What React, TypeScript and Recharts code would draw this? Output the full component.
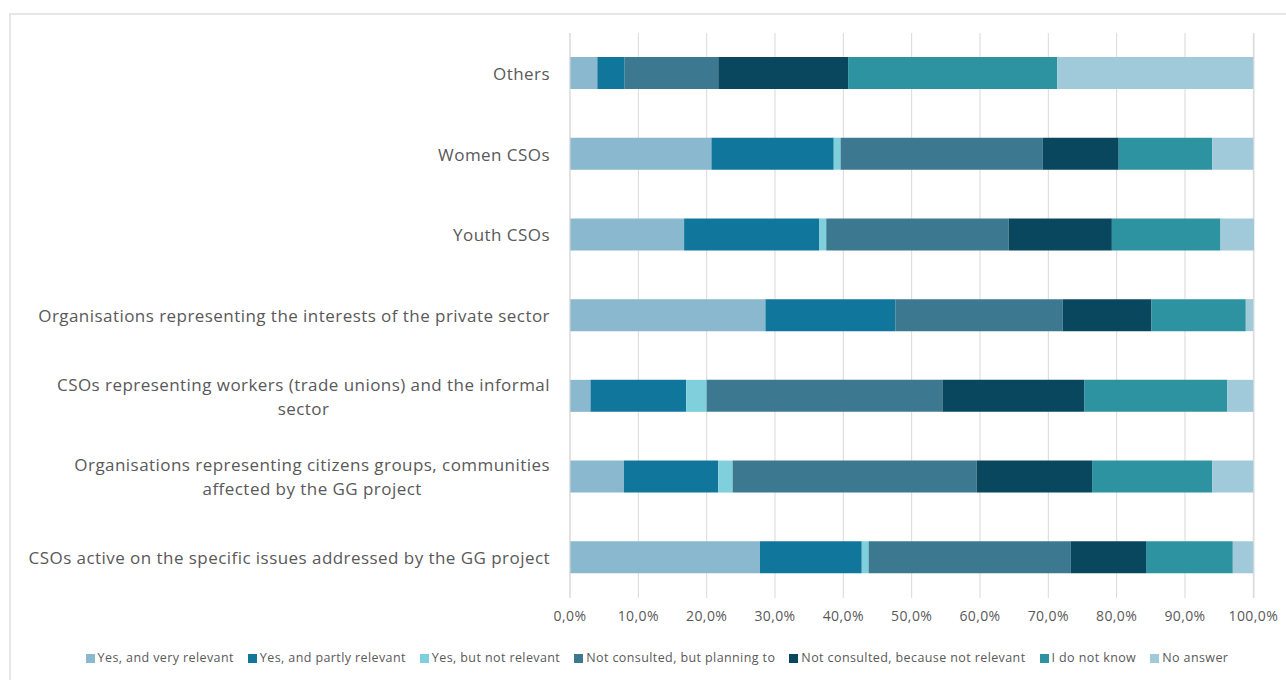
import { BarChart, Bar, XAxis, YAxis, CartesianGrid } from "recharts";

const categories = [
    "Others",
    "Women CSOs",
    "Youth CSOs",
    "Organisations representing the interests of the private sector",
    "CSOs representing workers (trade unions) and the informal sector",
    "Organisations representing citizens groups, communities affected by the GG project",
    "CSOs active on the specific issues addressed by the GG project",
];

const veryRelevant = [4.0, 20.7, 16.7, 28.6, 3.0, 7.9, 27.8];
const partlyRelevant = [4.0, 17.9, 19.8, 19.0, 14.0, 13.8, 14.9];
const notRelevant = [0, 1.0, 1.0, 0, 3.0, 2.1, 1.0];
const planningTo = [13.7, 29.6, 26.7, 24.5, 34.5, 35.7, 29.6];
const becauseNotRelevant = [19.0, 11.1, 15.1, 13.0, 20.8, 16.9, 11.0];
const doNotKnow = [30.6, 13.7, 15.9, 13.8, 20.9, 17.6, 12.7];
const noAnswer = [28.7, 6.0, 4.9, 1.1, 3.8, 6.0, 3.0];

const xTicks = [0, 10, 20, 30, 40, 50, 60, 70, 80, 90, 100];

const series = [
    { key: "very", name: "Yes, and very relevant", values: veryRelevant, color: "#8AB9CF" },
    { key: "partly", name: "Yes, and partly relevant", values: partlyRelevant, color: "#10769C" },
    { key: "notrel", name: "Yes, but not relevant", values: notRelevant, color: "#7FD0DC" },
    { key: "planning", name: "Not consulted, but planning to", values: planningTo, color: "#3C7890" },
    { key: "because", name: "Not consulted, because not relevant", values: becauseNotRelevant, color: "#09475F" },
    { key: "dk", name: "I do not know", values: doNotKnow, color: "#2E93A0" },
    { key: "na", name: "No answer", values: noAnswer, color: "#A0C9D9" },
];

const data = categories.map((name, i) => {
    const row: Record<string, string | number> = { name };
    series.forEach((s) => {
        row[s.key] = s.values[i];
    });
    return row;
});

const FONT = '"Open Sans", "Noto Sans", sans-serif';
const LABEL_FONT_SIZE = 17;
const LABEL_SPACING = 0.45;
const LABEL_WRAP = 530;

let ctx: CanvasRenderingContext2D | null = null;
function measure(text: string) {
    if (!ctx) {
        ctx = document.createElement("canvas").getContext("2d");
    }
    if (!ctx) return text.length * 8.2;
    ctx.font = `${LABEL_FONT_SIZE}px ${FONT}`;
    return ctx.measureText(text).width + text.length * LABEL_SPACING;
}

function wrapLabel(text: string, maxWidth: number) {
    const words = text.split(" ");
    const lines: string[] = [];
    let current = "";
    words.forEach((w) => {
        const next = current ? current + " " + w : w;
        if (current && measure(next) > maxWidth) {
            lines.push(current);
            current = w;
        } else {
            current = next;
        }
    });
    if (current) lines.push(current);
    return lines;
}

function CategoryTick(props: any) {
    const { x, y, payload } = props;
    const lines = wrapLabel(String(payload.value), LABEL_WRAP);
    const lineH = 24;
    const startY = y - ((lines.length - 1) * lineH) / 2;
    const textProps = {
        dominantBaseline: "central" as const,
        fill: "#595959",
        fontSize: LABEL_FONT_SIZE,
        fontFamily: FONT,
        letterSpacing: LABEL_SPACING,
    };
    if (lines.length === 1) {
        return (
            <text x={x} y={y} textAnchor="end" {...textProps}>
                {lines[0]}
            </text>
        );
    }
    const widest = Math.max(...lines.map(measure));
    const cx = x - widest / 2;
    return (
        <g>
            {lines.map((l, i) => (
                <text key={i} x={cx} y={startY + i * lineH} textAnchor="middle" {...textProps}>
                    {l}
                </text>
            ))}
        </g>
    );
}

const pct = (v: number) => v.toFixed(1).replace(".", ",") + "%";

export default function App() {
    return (
        <div style={{ position: "absolute", left: 0, top: 0, width: 1286, height: 680, background: "#fff", overflow: "hidden" }}>
            <div
                style={{
                    position: "absolute",
                    left: 9,
                    top: 13,
                    width: 1300,
                    height: 700,
                    border: "2px solid #e6e6e6",
                }}
            />
            <div style={{ position: "absolute", left: 0, top: 0 }}>
                <BarChart
                    width={1286}
                    height={640}
                    data={data}
                    layout="vertical"
                    margin={{ top: 33, right: 32, left: 0, bottom: 12 }}
                    barSize={32}
                >
                    <CartesianGrid horizontal={false} stroke="#d9d9d9" />
                    <XAxis
                        type="number"
                        domain={[0, 100]}
                        ticks={xTicks}
                        tickFormatter={pct}
                        axisLine={false}
                        tickLine={false}
                        tickSize={0}
                        tickMargin={13}
                        height={30}
                        tick={{ fill: "#595959", fontSize: 14, fontFamily: FONT, letterSpacing: 0.4 }}
                    />
                    <YAxis
                        type="category"
                        dataKey="name"
                        width={570}
                        axisLine={{ stroke: "#d9d9d9" }}
                        tickLine={false}
                        tickSize={0}
                        tickMargin={20}
                        interval={0}
                        tick={<CategoryTick />}
                    />
                    {series.map((s) => (
                        <Bar
                            key={s.key}
                            dataKey={s.key}
                            name={s.name}
                            stackId="a"
                            fill={s.color}
                            isAnimationActive={false}
                        />
                    ))}
                </BarChart>
            </div>
            <div
                style={{
                    position: "absolute",
                    left: 28,
                    top: 649,
                    width: 1258,
                    display: "flex",
                    justifyContent: "center",
                    gap: 14,
                    fontFamily: FONT,
                    fontSize: 12.5,
                    letterSpacing: 0.4,
                    color: "#595959",
                    lineHeight: "18px",
                }}
            >
                {series.map((s) => (
                    <div key={s.key} style={{ display: "flex", alignItems: "center", gap: 3 }}>
                        <span style={{ width: 9, height: 9, background: s.color, display: "inline-block" }} />
                        <span>{s.name}</span>
                    </div>
                ))}
            </div>
        </div>
    );
}
